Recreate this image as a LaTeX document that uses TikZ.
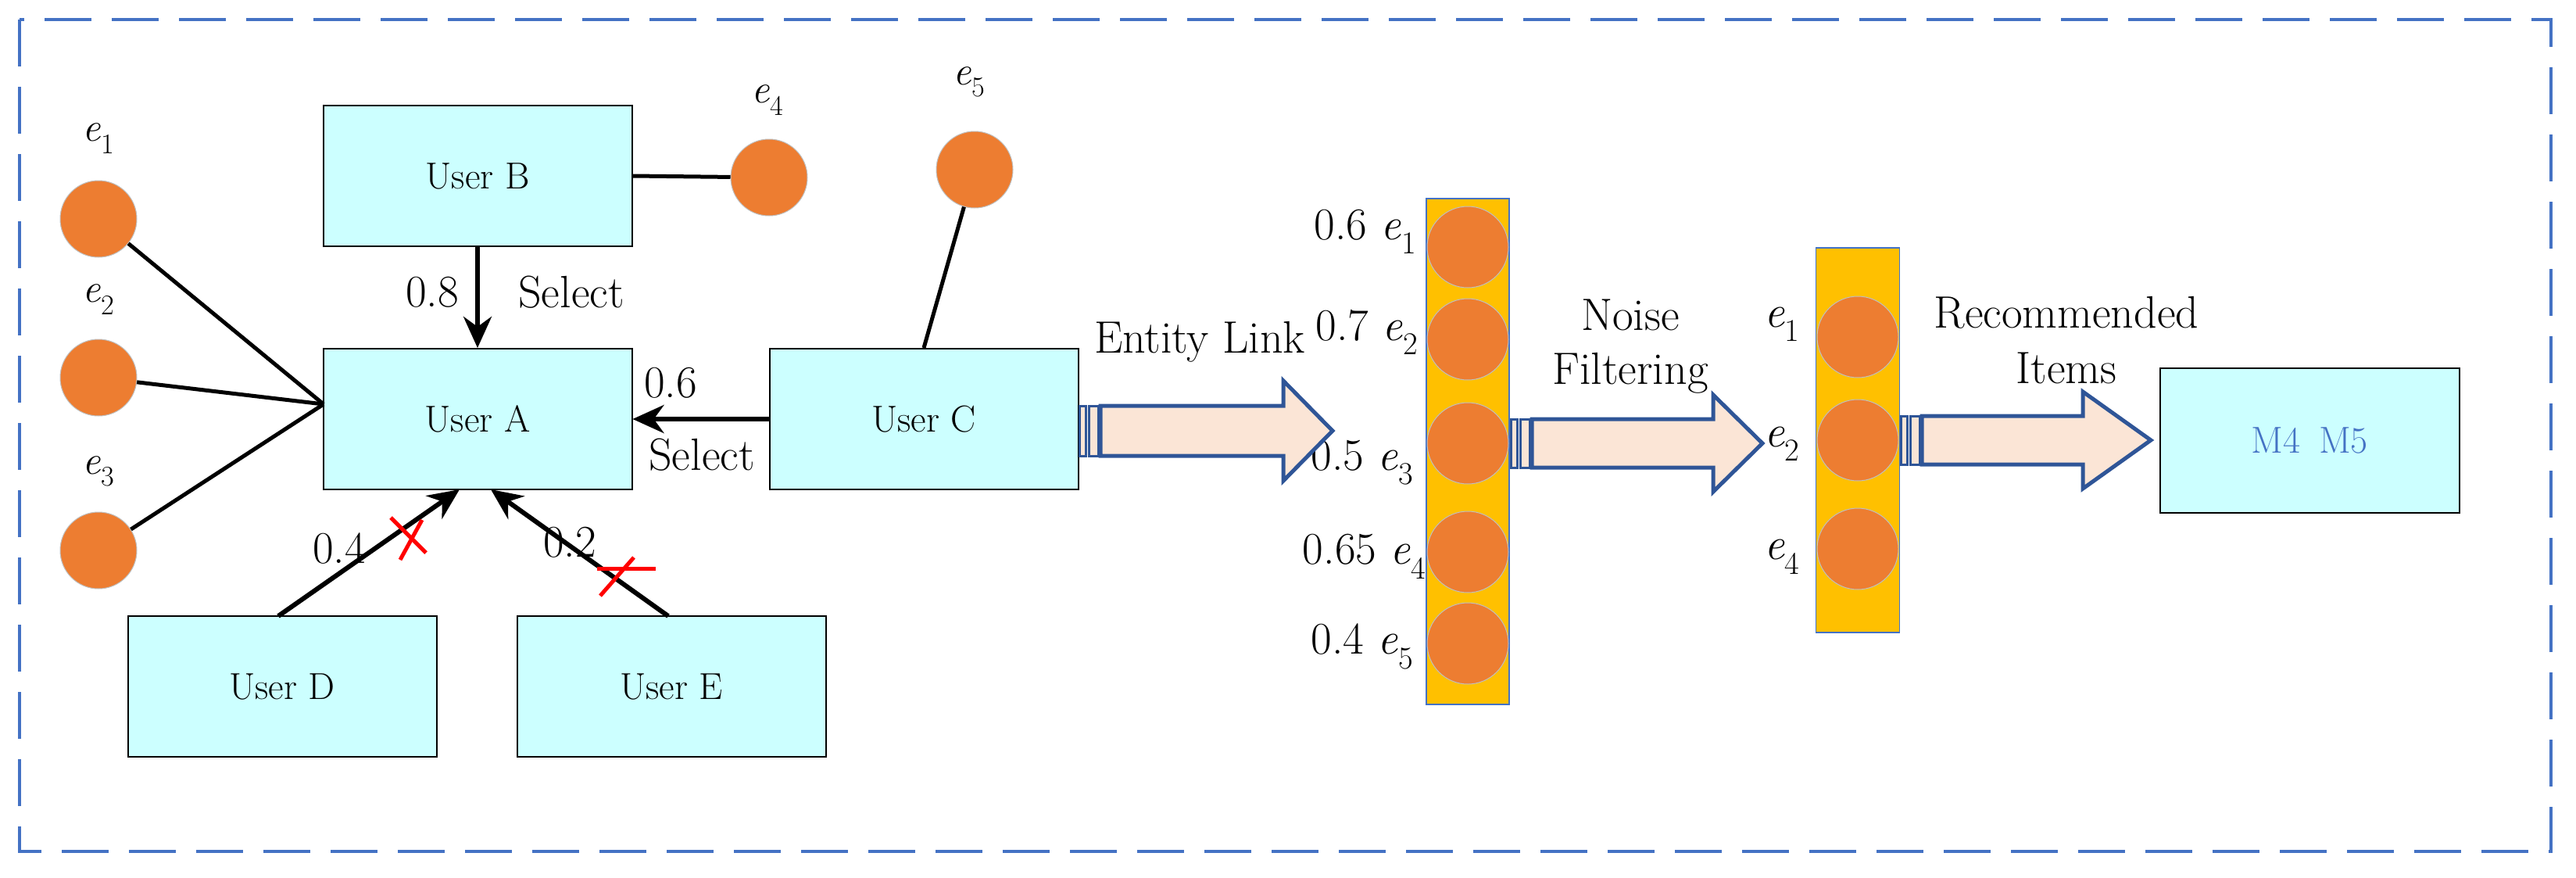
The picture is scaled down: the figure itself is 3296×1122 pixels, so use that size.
\documentclass[tikz,border=0pt]{standalone}
\usetikzlibrary{arrows.meta}
\definecolor{entc}{HTML}{ED7D31}
\definecolor{boxc}{HTML}{CCFFFF}
\definecolor{barc}{HTML}{FFC000}
\definecolor{framec}{HTML}{4472C4}
\definecolor{holc}{HTML}{2F5597}
\definecolor{peach}{HTML}{FBE5D6}
\newcommand{\ee}[1]{\textit{e}\textsubscript{#1}}
\begin{document}
\begin{tikzpicture}[x=1pt,y=-1pt,
  box/.style={draw=black,line width=2pt,fill=boxc,minimum width=395pt,minimum height=180pt,inner sep=0pt,font=\fontsize{48}{56}\selectfont},
  ent/.style={circle,draw=gray!50,line width=1pt,fill=entc,minimum size=98pt,inner sep=0pt},
  big/.style={font=\fontsize{58}{66}\selectfont},
  lab/.style={font=\fontsize{52}{60}\selectfont},
  ln/.style={line width=5pt},
  arr/.style={line width=6pt,-{Stealth[length=40pt,width=36pt]}},
  hol/.style={draw=holc,line width=5pt,fill=peach,line join=miter},
  cross/.style={red,line width=5pt}]
\useasboundingbox (0,0) rectangle (3296,1122);
\draw[framec,line width=4pt,dash pattern=on 60pt off 26pt] (25,25) rectangle (3264,1089);
% boxes
\node[box] (B) at (611,225) {User B};
\node[box] (A) at (611,536) {User A};
\node[box] (C) at (1182,536) {User C};
\node[box] (D) at (361,878) {User D};
\node[box] (E) at (859,878) {User E};
\node[box,minimum width=383pt,minimum height=185pt,text=framec] (M) at (2955,563) {M4\enspace M5};
% entities
\node[ent] (e1) at (126,280) {};
\node[ent] (e2) at (126,483) {};
\node[ent] (e3) at (126,704) {};
\node[ent] (e4) at (984,227) {};
\node[ent] (e5) at (1247,217) {};
\node[lab] (l1) at (126,177) {\ee{1}};
\node[lab] (l2) at (126,383) {\ee{2}};
\node[lab] (l3) at (126,603) {\ee{3}};
\node[lab] (l4) at (982,128) {\ee{4}};
\node[lab] (l5) at (1240,105) {\ee{5}};
\coordinate (Aw) at (414,517);
\draw[ln] (e1) -- (Aw);
\draw[ln] (e2) -- (Aw);
\draw[ln] (e3) -- (Aw);
\draw[ln] (B.east) -- (e4);
\draw[ln] (C.north) -- (e5);
% arrows
\draw[arr] (B.south) -- (A.north);
\draw[arr] (C.west) -- (A.east);
\coordinate (Ds) at (356,788); \coordinate (Ad) at (588,626);
\coordinate (Es) at (855,788); \coordinate (Ae) at (628,626);
\draw[arr] (Ds) -- (Ad);
\draw[arr] (Es) -- (Ae);
\node[big] (w08) at (553,374) {0.8};
\node[big] (s1) at (731,374) {Select};
\node[big] (w06) at (858,490) {0.6};
\node[big] (s2) at (898,582) {Select};
\node[big] (w04) at (434,702) {0.4};
\node[big] (w02) at (729,694) {0.2};
\draw[cross] (500,662) -- (545,707);
\draw[cross] (540,665) -- (512,716);
\draw[cross] (764,727) -- (839,727);
\draw[cross] (811,713) -- (768,762);
% bar 1
\node[draw=framec,line width=1.5pt,fill=barc,minimum width=106pt,minimum height=647pt,inner sep=0pt] (bar1) at (1878,577.5) {};
\foreach \y/\n in {316/a1,434/a2,567/a3,706/a4,823/a5}{
  \node[ent,minimum size=104pt] (\n) at (1878,\y) {};
}
\node[big,anchor=east] (t1) at (1816,296) {0.6 \ee{1}};
\node[big,anchor=east] (t2) at (1818,425) {0.7 \ee{2}};
\node[big,anchor=east] (t3) at (1812,592) {0.5 \ee{3}};
\node[big,anchor=east] (t4) at (1828,712) {0.65 \ee{4}};
\node[big,anchor=east] (t5) at (1812,827) {0.4 \ee{5}};
% bar 2
\node[draw=framec,line width=1.5pt,fill=barc,minimum width=107pt,minimum height=492pt,inner sep=0pt] (bar2) at (2377,563) {};
\node[ent,minimum size=104pt] (b1) at (2377,431) {};
\node[ent,minimum size=104pt] (b2) at (2377,563) {};
\node[ent,minimum size=104pt] (b4) at (2377,702) {};
\node[big] (r1) at (2280,415) {\ee{1}};
\node[big] (r2) at (2280,568) {\ee{2}};
\node[big] (r4) at (2280,712) {\ee{4}};
% hollow arrows
\newcommand{\hollow}[5]{% tailx, y, headx, tipx, halfbody
  \draw[hol] (#1+27,#2-#5) -- (#3,#2-#5) -- (#3,#2-2*#5) -- (#4,#2) -- (#3,#2+2*#5) -- (#3,#2+#5) -- (#1+27,#2+#5) -- cycle;
  \draw[hol,line width=3pt] (#1,#2-#5) rectangle (#1+8,#2+#5);
  \draw[hol,line width=3pt] (#1+12,#2-#5) rectangle (#1+24,#2+#5);}
\hollow{1381}{551}{1642}{1705}{32}
\hollow{1933}{567}{2192}{2255}{31}
\hollow{2432}{563}{2665}{2752}{31}
\node[big] (el) at (1535,437) {Entity Link};
\node[big] (n1) at (2086,403) {Noise};
\node[big] (n2) at (2086,477) {Filtering};
\node[big] (rc) at (2644,400) {Recommended};
\node[big] (it) at (2644,471) {Items};
\end{tikzpicture}
\end{document}
